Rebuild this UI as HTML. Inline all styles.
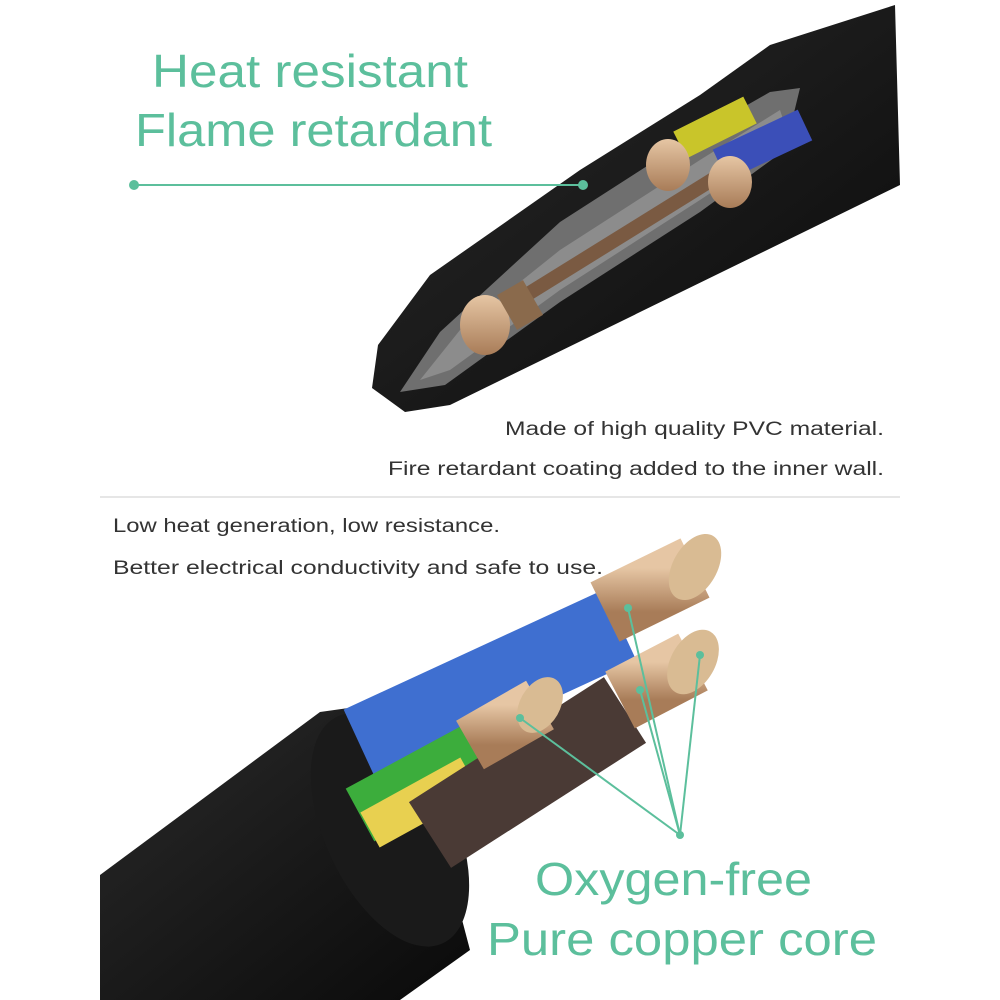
<!DOCTYPE html>
<html><head><meta charset="utf-8"><style>
html,body{margin:0;padding:0;background:#fff;width:1000px;height:1000px;overflow:hidden}
svg{display:block}
</style></head><body>
<svg width="1000" height="1000" viewBox="0 0 1000 1000" xmlns="http://www.w3.org/2000/svg">
<defs>
<linearGradient id="blk" x1="0" y1="0" x2="1" y2="1"><stop offset="0" stop-color="#2a2a2a"/><stop offset="1" stop-color="#0a0a0a"/></linearGradient>
<linearGradient id="cu" x1="0" y1="0" x2="0" y2="1"><stop offset="0" stop-color="#e6c6a4"/><stop offset="1" stop-color="#a87c58"/></linearGradient>
</defs>
<rect width="1000" height="1000" fill="#fff"/>

<polygon points="770,45 895,5 900,185 450,405 405,412 372,388 378,345 430,275 580,170 700,95" fill="url(#blk)"/>
<polygon points="400,392 440,332 560,222 700,132 770,92 800,88 785,150 700,212 560,302 445,385" fill="#6f6f6f"/>
<polygon points="420,380 460,330 560,250 700,160 780,110 790,140 700,200 560,290 450,370" fill="#8c8c8c"/>
<line x1="470" y1="330" x2="760" y2="150" stroke="#7a5a42" stroke-width="14"/>
<line x1="680" y1="145" x2="750" y2="110" stroke="#c9c52a" stroke-width="30"/>
<line x1="720" y1="165" x2="805" y2="125" stroke="#3b4fb8" stroke-width="34"/>
<ellipse cx="668" cy="165" rx="22" ry="26" fill="url(#cu)"/>
<ellipse cx="730" cy="182" rx="22" ry="26" fill="url(#cu)"/>
<ellipse cx="485" cy="325" rx="25" ry="30" fill="url(#cu)"/>
<rect x="505" y="285" width="30" height="40" fill="#8a6a4c" transform="rotate(-30 520 305)"/>

<g font-family="Liberation Sans, sans-serif" fill="#5cbf9c" font-size="46">
<text x="152" y="87" textLength="316" lengthAdjust="spacingAndGlyphs">Heat resistant</text>
<text x="135" y="146" textLength="357" lengthAdjust="spacingAndGlyphs">Flame retardant</text>
</g>
<line x1="134" y1="185" x2="583" y2="185" stroke="#5cbf9c" stroke-width="2"/>
<circle cx="134" cy="185" r="5" fill="#5cbf9c"/>
<circle cx="583" cy="185" r="5" fill="#5cbf9c"/>

<g font-family="Liberation Sans, sans-serif" fill="#333" font-size="19">
<text x="505" y="435" textLength="379" lengthAdjust="spacingAndGlyphs">Made of high quality PVC material.</text>
<text x="388" y="475" textLength="496" lengthAdjust="spacingAndGlyphs">Fire retardant coating added to the inner wall.</text>
</g>
<line x1="100" y1="497" x2="900" y2="497" stroke="#ddd" stroke-width="1.5"/>

<g font-family="Liberation Sans, sans-serif" fill="#333" font-size="19">
<text x="113" y="532" textLength="387" lengthAdjust="spacingAndGlyphs">Low heat generation, low resistance.</text>
<text x="113" y="574" textLength="490" lengthAdjust="spacingAndGlyphs">Better electrical conductivity and safe to use.</text>
</g>

<polygon points="100,875 320,712 370,705 420,760 470,950 400,1000 100,1000" fill="url(#blk)"/>
<ellipse cx="390" cy="830" rx="65" ry="125" transform="rotate(-25 390 830)" fill="#1a1a1a"/>
<line x1="360" y1="745" x2="620" y2="625" stroke="#3f6fd0" stroke-width="78"/>
<line x1="360" y1="815" x2="480" y2="750" stroke="#3cad3c" stroke-width="60"/>
<line x1="370" y1="830" x2="470" y2="775" stroke="#e8d050" stroke-width="40"/>
<line x1="430" y1="835" x2="625" y2="710" stroke="#4a3a35" stroke-width="78"/>
<line x1="605" y1="612" x2="695" y2="568" stroke="url(#cu)" stroke-width="66"/>
<ellipse cx="695" cy="567" rx="22" ry="36" transform="rotate(30 695 567)" fill="#d9bb93"/>
<line x1="620" y1="700" x2="693" y2="662" stroke="url(#cu)" stroke-width="64"/>
<ellipse cx="693" cy="662" rx="22" ry="35" transform="rotate(30 693 662)" fill="#d9bb93"/>
<line x1="470" y1="745" x2="540" y2="705" stroke="url(#cu)" stroke-width="56"/>
<ellipse cx="540" cy="705" rx="20" ry="30" transform="rotate(30 540 705)" fill="#d9bb93"/>

<g stroke="#5cbf9c" stroke-width="2" fill="none">
<polyline points="520,718 680,835 628,608"/>
<line x1="680" y1="835" x2="700" y2="655"/>
<line x1="680" y1="835" x2="640" y2="690"/>
</g>
<g fill="#5cbf9c">
<circle cx="520" cy="718" r="4"/><circle cx="628" cy="608" r="4"/>
<circle cx="700" cy="655" r="4"/><circle cx="640" cy="690" r="4"/><circle cx="680" cy="835" r="4"/>
</g>
<g font-family="Liberation Sans, sans-serif" fill="#5cbf9c" font-size="46">
<text x="535" y="895" textLength="277" lengthAdjust="spacingAndGlyphs">Oxygen-free</text>
<text x="487" y="955" textLength="390" lengthAdjust="spacingAndGlyphs">Pure copper core</text>
</g>
</svg>
</body></html>
